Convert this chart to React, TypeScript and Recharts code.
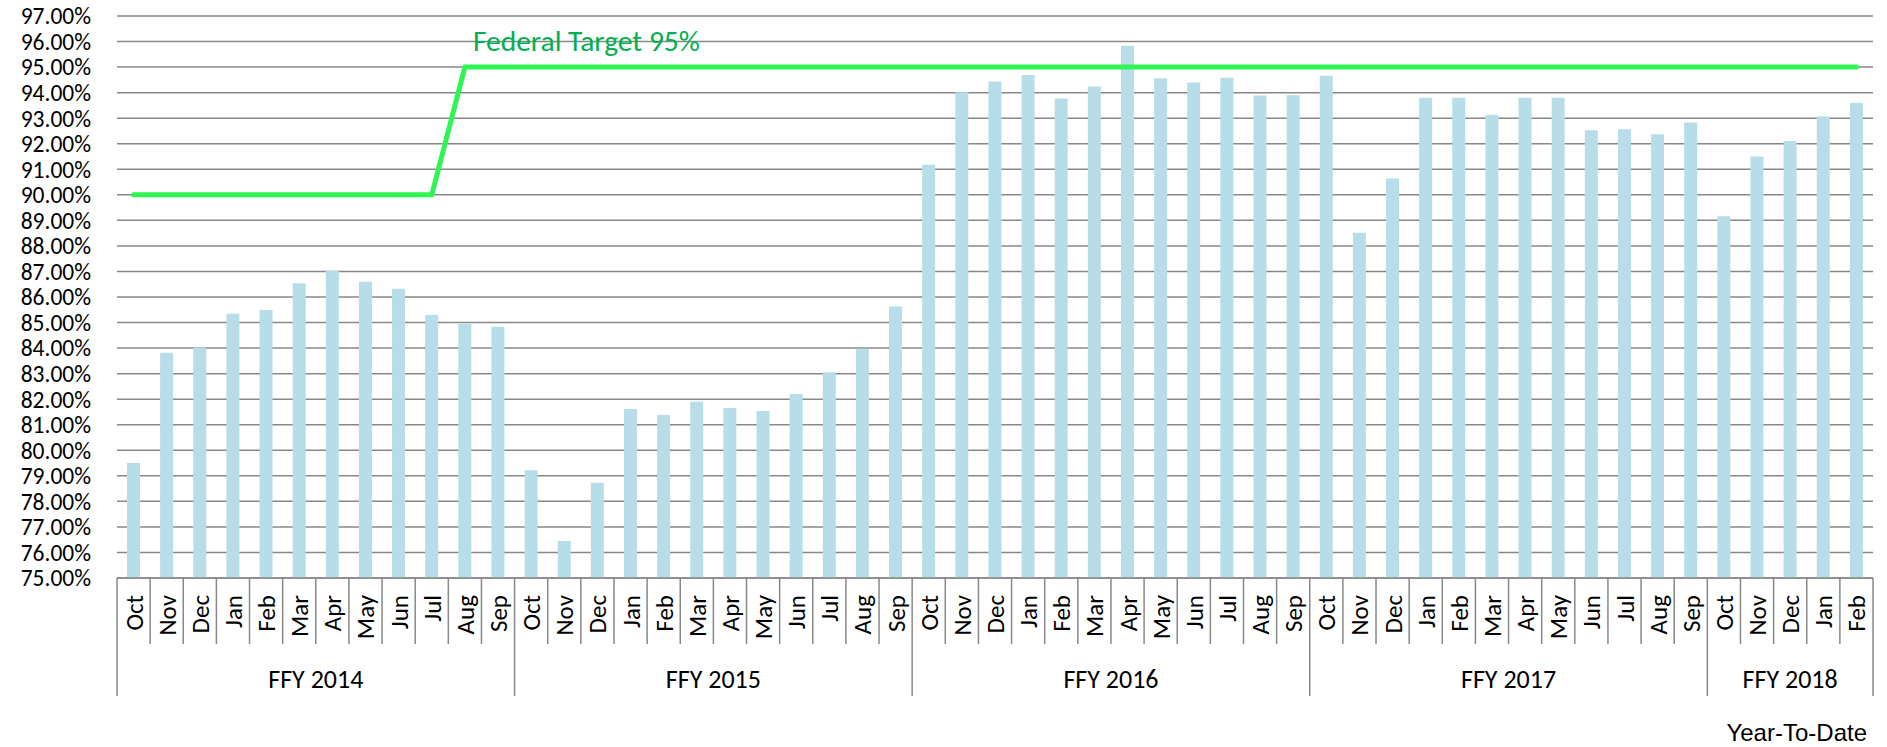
import React from "react";
import { Bar, CartesianGrid, ComposedChart, Line, XAxis, YAxis } from "recharts";

const months = ["Oct", "Nov", "Dec", "Jan", "Feb", "Mar", "Apr", "May", "Jun", "Jul", "Aug", "Sep"];
const fyLabels = ["FFY 2014", "FFY 2015", "FFY 2016", "FFY 2017", "FFY 2018"];

// year-to-date rate, percent
const ffy2014Rates = [79.5, 83.82, 84.02, 85.34, 85.49, 86.54, 87.03, 86.6, 86.32, 85.3, 84.94, 84.84];
const ffy2015Rates = [79.22, 76.45, 78.73, 81.62, 81.38, 81.9, 81.65, 81.54, 82.2, 83.05, 83.97, 85.63];
const ffy2016Rates = [91.18, 94.02, 94.44, 94.69, 93.77, 94.24, 95.84, 94.56, 94.4, 94.58, 93.89, 93.9];
const ffy2017Rates = [94.66, 88.52, 90.64, 93.8, 93.8, 93.13, 93.8, 93.8, 92.53, 92.57, 92.37, 92.83];
const ffy2018Rates = [89.16, 91.5, 92.11, 93.07, 93.59];

// federal target, percent
const ffy2014Target = [90, 90, 90, 90, 90, 90, 90, 90, 90, 90, 95, 95];
const ffy2015Target = [95, 95, 95, 95, 95, 95, 95, 95, 95, 95, 95, 95];
const ffy2016Target = [95, 95, 95, 95, 95, 95, 95, 95, 95, 95, 95, 95];
const ffy2017Target = [95, 95, 95, 95, 95, 95, 95, 95, 95, 95, 95, 95];
const ffy2018Target = [95, 95, 95, 95, 95];

const yTicks = [75, 76, 77, 78, 79, 80, 81, 82, 83, 84, 85, 86, 87, 88, 89, 90, 91, 92, 93, 94, 95, 96, 97];
const targetLabel = "Federal Target 95%";
const targetLabelMonth = "FFY 2014-Aug";
const footnote = "Year-To-Date";

const rateGroups = [ffy2014Rates, ffy2015Rates, ffy2016Rates, ffy2017Rates, ffy2018Rates];
const targetGroups = [ffy2014Target, ffy2015Target, ffy2016Target, ffy2017Target, ffy2018Target];

const rows = fyLabels.flatMap((fy, i) =>
  rateGroups[i].map((rate, j) => ({
    key: `${fy}-${months[j]}`,
    month: months[j],
    fy,
    first: j === 0,
    groupSize: rateGroups[i].length,
    rate,
    target: targetGroups[i][j],
  }))
);

const W = 1887;
const H = 747;
const LEFT = 117;
const RIGHT = 14;
const BAND = (W - LEFT - RIGHT) / rows.length;
const FONT = "Carlito, Calibri, Lato, sans-serif";
const GRID = "#888888";

const MonthTick = (props) => {
  const { x, y, index } = props;
  const row = rows[index];
  const left = x - BAND / 2;
  const right = x + BAND / 2;
  const last = index === rows.length - 1;
  return (
    <g>
      <line x1={left} x2={left} y1={y} y2={row.first ? y + 118 : y + 66} stroke={GRID} strokeWidth={1.5} />
      {last && <line x1={right} x2={right} y1={y} y2={y + 118} stroke={GRID} strokeWidth={1.5} />}
      <text
        transform={`translate(${x},${y + 17}) rotate(-90)`}
        textAnchor="end"
        dy="0.36em"
        fontSize={25}
        fontFamily={FONT}
        fill="#000"
      >
        {row.month}
      </text>
      {row.first && (
        <text
          x={left + (row.groupSize * BAND) / 2}
          y={y + 110}
          textAnchor="middle"
          fontSize={26}
          fontFamily={FONT}
          fill="#000"
        >
          {row.fy}
        </text>
      )}
    </g>
  );
};

const TargetLabel = (props) => {
  const { x, y, index } = props;
  if (rows[index].key !== targetLabelMonth) return null;
  return (
    <text x={x + 8} y={y - 16} fontSize={29.5} fontFamily={FONT} fill="#00B050">
      {targetLabel}
    </text>
  );
};

const App = () => {
  return (
    <div style={{ width: W, height: H, background: "#fff" }}>
      <style>{"body{margin:0}"}</style>
      <ComposedChart
        width={W}
        height={H}
        data={rows}
        margin={{ top: 16, right: RIGHT, bottom: 0, left: 0 }}
      >
        <CartesianGrid vertical={false} stroke={GRID} strokeWidth={1.5} />
        <XAxis
          dataKey="key"
          interval={0}
          height={H - 16 - 562}
          tickSize={0}
          tickMargin={0}
          tickLine={false}
          axisLine={{ stroke: GRID, strokeWidth: 1.5 }}
          tick={<MonthTick />}
          label={{
            value: footnote,
            position: "insideBottomRight",
            offset: 6,
            fontSize: 24,
            fontFamily: "'Liberation Sans', Arial, sans-serif",
            fill: "#000",
          }}
        />
        <YAxis
          width={LEFT}
          domain={[75, 97]}
          ticks={yTicks}
          interval={0}
          allowDataOverflow
          tickSize={0}
          tickMargin={26}
          tickLine={false}
          axisLine={false}
          tickFormatter={(v) => `${v.toFixed(2)}%`}
          tick={{ fontSize: 23.5, fontFamily: FONT, fill: "#000" }}
        />
        <Bar dataKey="rate" fill="#B7DDE8" barSize={13} isAnimationActive={false} />
        <Line
          type="linear"
          dataKey="target"
          stroke="#2DF552"
          strokeWidth={5}
          strokeLinecap="round"
          strokeLinejoin="round"
          dot={false}
          activeDot={false}
          label={<TargetLabel />}
          isAnimationActive={false}
        />
      </ComposedChart>
    </div>
  );
};

export default App;
